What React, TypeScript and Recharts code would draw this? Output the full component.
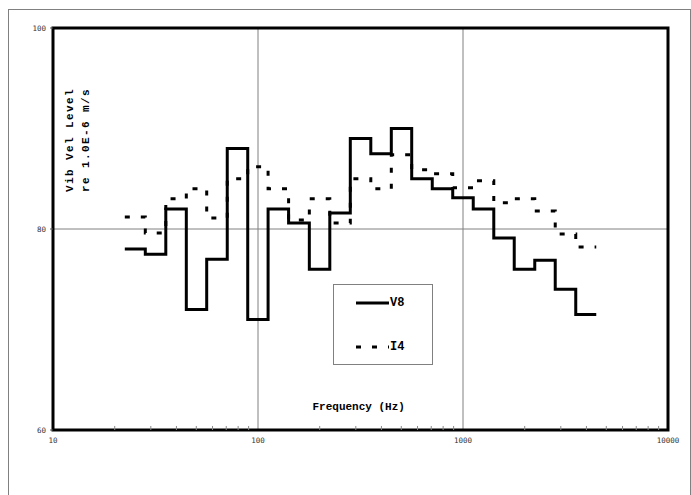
import React from 'react';
import {
  ComposedChart,
  Line,
  XAxis,
  YAxis,
  CartesianGrid,
  ReferenceArea,
  ReferenceLine,
} from 'recharts';

// One-third-octave band edges (Hz); each level holds from its edge to the next one
const BAND_EDGES_HZ = [
  22.4, 28.2, 35.5, 44.7, 56.2, 70.8, 89.1, 112, 141, 178, 224, 282, 355, 447,
  562, 708, 891, 1122, 1413, 1778, 2239, 2818, 3548, 4467,
];
const V8_LEVELS = [
  78, 77.5, 82, 72, 77, 88, 71, 82, 80.6, 76, 81.6, 89, 87.5, 90, 85, 84, 83.1,
  82, 79.1, 76, 76.9, 74, 71.5,
];
const I4_LEVELS = [
  81.2, 79.6, 83, 84, 81.1, 85, 86.2, 84, 80.9, 83, 80.6, 85, 84, 87.4, 85.9,
  85.5, 84.1, 84.8, 82.6, 83, 81.8, 79.5, 78.2,
];
const X_TICKS = [10, 100, 1000, 10000];
const Y_TICKS = [60, 80, 100];
const X_MINOR_TICKS = [
  20, 30, 40, 50, 60, 70, 80, 90, 200, 300, 400, 500, 600, 700, 800, 900, 2000,
  3000, 4000, 5000, 6000, 7000, 8000, 9000,
];
const SERIES = [
  { key: 'v8', name: 'V8', dash: undefined as string | undefined },
  { key: 'i4', name: 'I4', dash: '5 11' },
];

const last = (arr: number[], i: number) => arr[Math.min(i, arr.length - 1)];
const data = BAND_EDGES_HZ.map((f, i) => ({
  f,
  v8: last(V8_LEVELS, i),
  i4: last(I4_LEVELS, i),
}));

const MONO = '"Liberation Mono", "DejaVu Sans Mono", monospace';

export default function App() {
  return (
    <div
      style={{
        position: 'absolute',
        left: 0,
        top: 0,
        width: 691,
        height: 495,
        background: '#fff',
        overflow: 'hidden',
      }}
    >
      <div
        style={{
          position: 'absolute',
          left: 8,
          top: 9,
          width: 681,
          height: 500,
          border: '1px solid #808080',
        }}
      />
      <div style={{ position: 'absolute', left: 0, top: 0 }}>
        <ComposedChart
          width={691}
          height={495}
          data={data}
          margin={{ top: 28, right: 23, bottom: 35, left: 0 }}
        >
          <CartesianGrid stroke="#808080" strokeWidth={1} />
          <XAxis
            dataKey="f"
            type="number"
            scale="log"
            domain={[10, 10000]}
            ticks={X_TICKS}
            allowDataOverflow
            axisLine={false}
            tickLine={false}
            tickSize={4}
            tickMargin={4}
            height={30}
            interval={0}
            tick={{ fontFamily: '"DejaVu Sans Mono", monospace', fontSize: 7.5, fill: '#333' }}
          />
          <YAxis
            type="number"
            domain={[60, 100]}
            ticks={Y_TICKS}
            allowDataOverflow
            axisLine={false}
            tickLine={{ stroke: '#555' }}
            tickSize={3}
            tickMargin={4}
            width={53}
            interval={0}
            tick={{ fontFamily: '"DejaVu Sans Mono", monospace', fontSize: 7.5, fill: '#333' }}
          />
          {X_MINOR_TICKS.map((t) => (
            <ReferenceLine
              key={t}
              segment={[
                { x: t, y: 60 },
                { x: t, y: 60.4 },
              ]}
              stroke="#888"
              strokeWidth={1}
            />
          ))}
          {SERIES.map((s) => (
            <Line
              key={s.key}
              dataKey={s.key}
              name={s.name}
              type="stepAfter"
              stroke="#000"
              strokeWidth={3}
              strokeDasharray={s.dash}
              dot={false}
              activeDot={false}
              isAnimationActive={false}
            />
          ))}
          <ReferenceArea
            x1={10}
            x2={10000}
            y1={60}
            y2={100}
            fill="none"
            fillOpacity={0}
            stroke="#000"
            strokeWidth={3}
            ifOverflow="visible"
          />
        </ComposedChart>
      </div>
      <svg
        width={691}
        height={495}
        style={{ position: 'absolute', left: 0, top: 0, pointerEvents: 'none' }}
      >
        <g fontFamily={MONO} fontWeight="bold" fill="#000">
          <text
            x={70}
            y={140}
            fontSize={11}
            letterSpacing={1.4}
            textAnchor="middle"
            dominantBaseline="central"
            transform="rotate(-90 70 140)"
          >
            Vib Vel Level
          </text>
          <text
            x={85.5}
            y={140}
            fontSize={11}
            letterSpacing={1.4}
            textAnchor="middle"
            dominantBaseline="central"
            transform="rotate(-90 85.5 140)"
          >
            re 1.0E-6 m/s
          </text>
          <text x={312.5} y={407} fontSize={11} dominantBaseline="central">
            Frequency (Hz)
          </text>
        </g>
        <rect
          x={333.5}
          y={284.5}
          width={99}
          height={80}
          fill="#fff"
          stroke="#808080"
          strokeWidth={1}
        />
        {SERIES.map((s, i) => {
          const y = 303 + i * 44;
          return (
            <g key={s.key}>
              <line
                x1={356}
                x2={389}
                y1={y}
                y2={y}
                stroke="#000"
                strokeWidth={3}
                strokeDasharray={s.dash}
              />
              <text
                x={390}
                y={y}
                fontFamily={MONO}
                fontWeight="bold"
                fontSize={12}
                dominantBaseline="central"
                fill="#000"
              >
                {s.name}
              </text>
            </g>
          );
        })}
      </svg>
    </div>
  );
}
